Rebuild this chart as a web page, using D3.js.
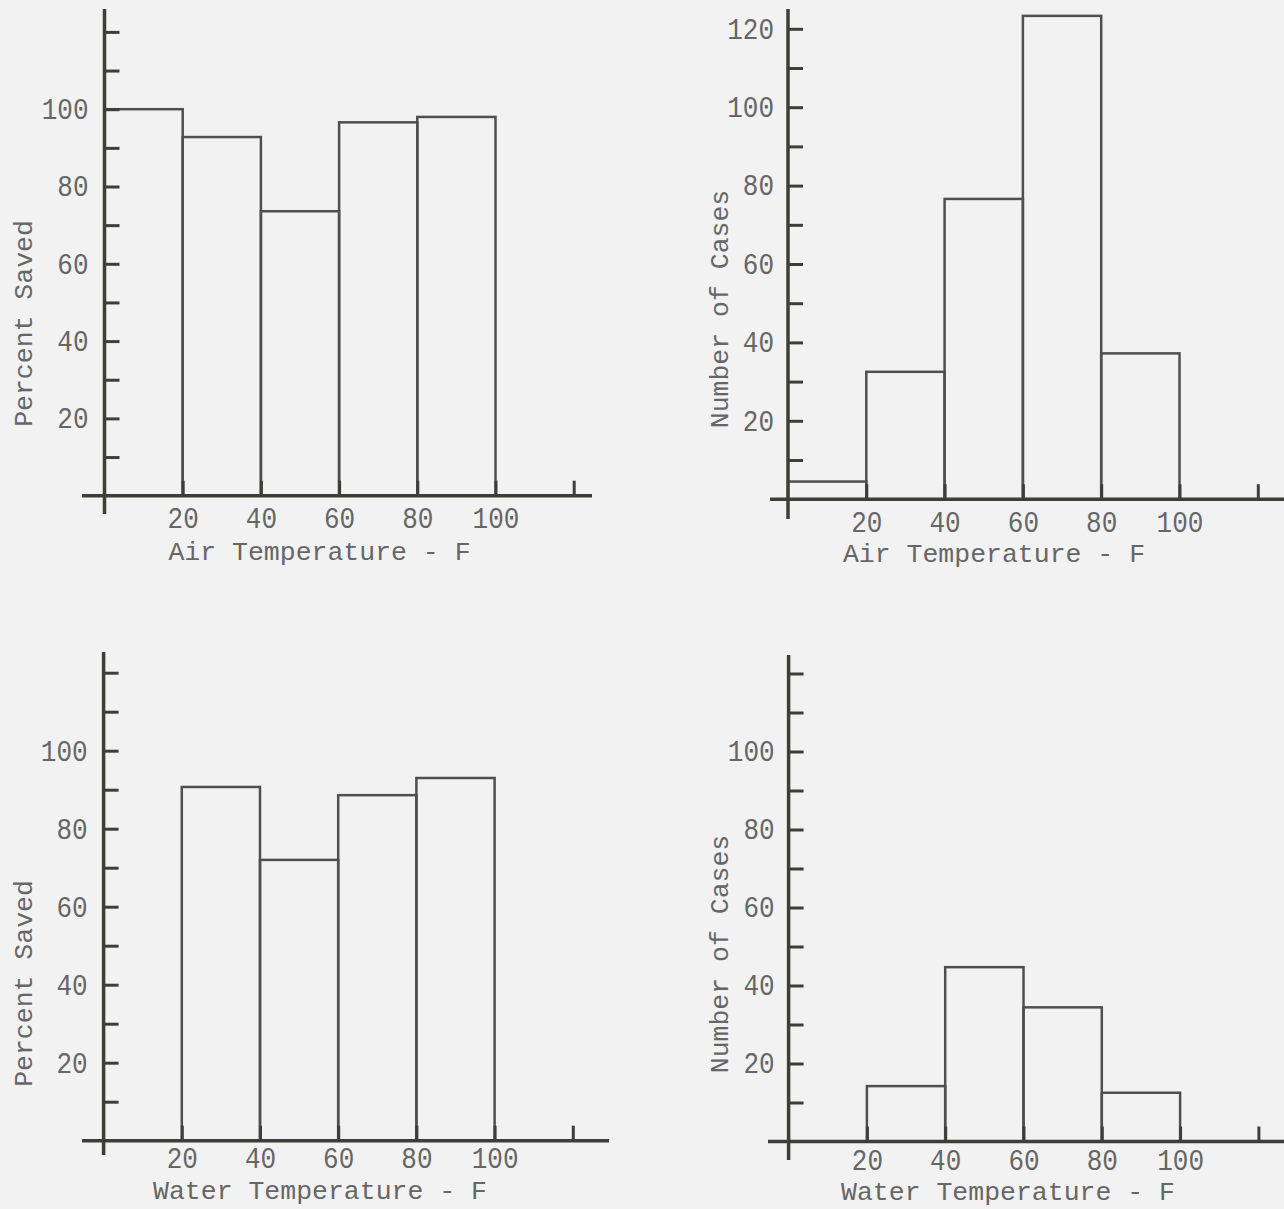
<!DOCTYPE html>
<html>
<head>
<meta charset="utf-8">
<script src="https://cdn.jsdelivr.net/npm/d3@7"></script>
<style>
  html, body { margin: 0; padding: 0; background: #f2f2f2; }
  svg { display: block; }
  text { font-family: "Liberation Mono", "Courier New", monospace; fill: #666666; }
  .tick text { transform-box: fill-box; transform-origin: center; transform: scaleY(1.15); }
  .tick line { stroke: #3e3e38; stroke-width: 3; }
  .axis-line { stroke: #3e3e38; stroke-width: 3.5; }
  .bar { fill: none; stroke: #4f4f4f; stroke-width: 2.5; }
</style>
</head>
<body>
<svg id="chart" width="1284" height="1209"></svg>
<script>
// Temperature classes (F) shared by all four histograms
const binEdges = [0, 20, 40, 60, 80, 100];

// Bar heights per temperature class (null = no cases in that class)
const airPercentSaved   = [100, 92.8, 73.6, 96.6, 98.0];
const airCaseCounts     = [4.5, 32.5, 76.6, 123.3, 37.2];
const waterPercentSaved = [null, 90.7, 72.0, 88.6, 93.0];
const waterCaseCounts   = [null, 14.2, 44.7, 34.4, 12.5];

// Tick marks and the ones that carry labels
const xTickValues = [20, 40, 60, 80, 100, 120];
const xTickLabels = [20, 40, 60, 80, 100];
const yTickValues = [10, 20, 30, 40, 50, 60, 70, 80, 90, 100, 110, 120];
const yLabels100  = [20, 40, 60, 80, 100];
const yLabels120  = [20, 40, 60, 80, 100, 120];

// Axis titles
const airTitle = "Air Temperature - F";
const waterTitle = "Water Temperature - F";
const percentTitle = "Percent Saved";
const casesTitle = "Number of Cases";

// Panel definitions: data references plus placement on the page
const panels = [
  { values: airPercentSaved, yLabels: yLabels100, xTitle: airTitle, yTitle: percentTitle,
    pos: { x0: 104.5, y0: 495.7, xu: 3.91, yu: 3.865, xLeft: 82, xRight: 592, yTop: 9, yBottom: 514,
           xPad: 13, yPad: 16, xTitleX: 319.5, xTitleY: 560, yTitleX: 31.5, yTitleY: 323.5 } },
  { values: airCaseCounts, yLabels: yLabels120, xTitle: airTitle, yTitle: casesTitle,
    pos: { x0: 788, y0: 499.2, xu: 3.915, yu: 3.92, xLeft: 770, xRight: 1284, yTop: 9, yBottom: 519,
           xPad: 13, yPad: 14, xTitleX: 994, xTitleY: 562, yTitleX: 728, yTitleY: 309 } },
  { values: waterPercentSaved, yLabels: yLabels100, xTitle: waterTitle, yTitle: percentTitle,
    pos: { x0: 103.6, y0: 1140.7, xu: 3.91, yu: 3.9, xLeft: 82, xRight: 609, yTop: 652, yBottom: 1155,
           xPad: 8, yPad: 16, xTitleX: 320, xTitleY: 1199, yTitleX: 31.5, yTitleY: 983.5 } },
  { values: waterCaseCounts, yLabels: yLabels100, xTitle: waterTitle, yTitle: casesTitle,
    pos: { x0: 788.6, y0: 1141.5, xu: 3.915, yu: 3.9, xLeft: 768, xRight: 1284, yTop: 655, yBottom: 1160,
           xPad: 9, yPad: 14, xTitleX: 1008, xTitleY: 1200, yTitleX: 728, yTitleY: 954 } }
];

const svg = d3.select("#chart");

panels.forEach(p => {
  const L = p.pos;
  const x = d3.scaleLinear().domain([0, 125]).range([L.x0, L.x0 + 125 * L.xu]);
  const y = d3.scaleLinear().domain([0, 125]).range([L.y0, L.y0 - 125 * L.yu]);
  const g = svg.append("g");

  // histogram bars
  const bins = p.values.map((v, i) => ({ lo: binEdges[i], hi: binEdges[i + 1], v }))
                       .filter(b => b.v != null);
  g.selectAll("rect.bar").data(bins).join("rect")
    .attr("class", "bar")
    .attr("x", b => x(b.lo))
    .attr("width", b => x(b.hi) - x(b.lo))
    .attr("y", b => y(b.v))
    .attr("height", b => y(0) - y(b.v));

  // y axis: ticks point inward, labels on selected values
  const yAxis = g.append("g")
    .attr("transform", `translate(${L.x0},0)`)
    .call(d3.axisLeft(y)
      .tickValues(yTickValues)
      .tickFormat(d => p.yLabels.includes(d) ? String(d) : "")
      .tickSizeInner(-15).tickSizeOuter(0).tickPadding(L.yPad));
  yAxis.select(".domain").remove();
  yAxis.attr("font-size", 26).attr("font-family", null);

  // x axis: upward ticks, last tick unlabeled
  const xAxis = g.append("g")
    .attr("transform", `translate(0,${L.y0})`)
    .call(d3.axisBottom(x)
      .tickValues(xTickValues)
      .tickFormat(d => xTickLabels.includes(d) ? String(d) : "")
      .tickSizeInner(-15).tickSizeOuter(0).tickPadding(L.xPad));
  xAxis.select(".domain").remove();
  xAxis.attr("font-size", 26).attr("font-family", null);

  // axis lines crossing each other at the origin
  g.append("line").attr("class", "axis-line")
    .attr("x1", L.xLeft).attr("x2", L.xRight).attr("y1", L.y0).attr("y2", L.y0);
  g.append("line").attr("class", "axis-line")
    .attr("x1", L.x0).attr("x2", L.x0).attr("y1", L.yTop).attr("y2", L.yBottom);

  // axis titles
  g.append("text")
    .attr("x", L.xTitleX).attr("y", L.xTitleY)
    .attr("text-anchor", "middle").attr("font-size", 26.5)
    .text(p.xTitle);
  g.append("text")
    .attr("transform", `translate(${L.yTitleX},${L.yTitleY}) rotate(-90)`)
    .attr("text-anchor", "middle").attr("font-size", 26.5)
    .text(p.yTitle);
});
</script>
</body>
</html>
